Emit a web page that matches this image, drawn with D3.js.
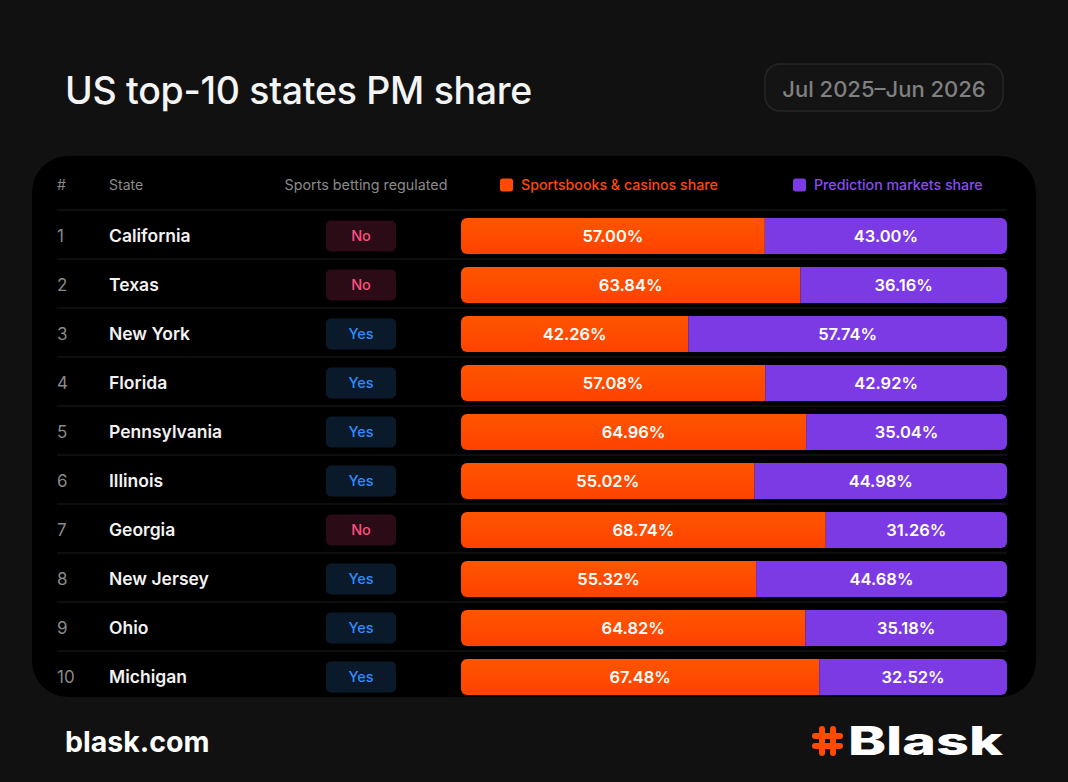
<!DOCTYPE html>
<html>
<head>
<meta charset="utf-8">
<script src="https://cdn.jsdelivr.net/npm/d3@7"></script>
<style>
  html, body { margin: 0; padding: 0; background: #111111; }
  svg { display: block; font-family: Inter, "Noto Sans", sans-serif; }
</style>
</head>
<body>
<div id="chart"></div>
<script>
// chart data
const ranks = [1, 2, 3, 4, 5, 6, 7, 8, 9, 10];
const states = ["California", "Texas", "New York", "Florida", "Pennsylvania", "Illinois", "Georgia", "New Jersey", "Ohio", "Michigan"];
const regulated = ["No", "No", "Yes", "Yes", "Yes", "Yes", "No", "Yes", "Yes", "Yes"];
const sportsbookShare = [57.00, 63.84, 42.26, 57.08, 64.96, 55.02, 68.74, 55.32, 64.82, 67.48];
const predictionShare = [43.00, 36.16, 57.74, 42.92, 35.04, 44.98, 31.26, 44.68, 35.18, 32.52];
const seriesNames = ["Sportsbooks & casinos share", "Prediction markets share"];

const W = 1068, H = 782;
const COLOURS = {
    BG: "#111111",
    PANEL: "#000000",
    ORANGE: "#ff4a00",
    PURPLE: "#7b3ae4",
    GREY: "#8a8a8a",
    LINE: "#1c1c1c",
    NO_BG: "#2a0b16",
    NO_TXT: "#ff4f7f",
    YES_BG: "#0b1a2b",
    YES_TXT: "#2f8cff"
};

const rows = ranks.map((r, i) => ({
    rank: r,
    state: states[i],
    reg: regulated[i],
    sb: sportsbookShare[i],
    pm: predictionShare[i]
}));

const svg = d3.select("#chart").append("svg")
    .attr("width", W)
    .attr("height", H);

svg.append("rect").attr("width", W).attr("height", H).attr("fill", COLOURS.BG);

// title + period pill
svg.append("text")
    .attr("x", 65).attr("y", 104)
    .attr("fill", "#f4f4f4")
    .style("font-size", "37.5px")
    .style("font-weight", 500)
    .style("letter-spacing", "-0.3px")
    .text("US top-10 states PM share");

svg.append("rect")
    .attr("x", 765).attr("y", 64)
    .attr("width", 238).attr("height", 47)
    .attr("rx", 15)
    .attr("fill", "#141414")
    .attr("stroke", "#262626")
    .attr("stroke-width", 1.5);

svg.append("text")
    .attr("x", 884).attr("y", 89)
    .attr("dy", "0.35em")
    .attr("text-anchor", "middle")
    .attr("fill", "#808080")
    .style("font-size", "22px")
    .style("font-weight", 500)
    .text("Jul 2025\u2013Jun 2026");

// table panel
svg.append("rect")
    .attr("x", 32).attr("y", 156)
    .attr("width", 1004).attr("height", 541)
    .attr("rx", 36)
    .attr("fill", COLOURS.PANEL);

// scales: the share scale sits inside a slightly wider rounded track
const track = {x0: 461, x1: 1007};
const x = d3.scaleLinear().domain([0, 100]).range([469, 988]);
const y = d3.scaleBand().domain(ranks).range([211.5, 701.5]);
const barH = 36;

// header
const header = svg.append("g").attr("transform", "translate(0,185)");
header.append("text").attr("x", 57).attr("dy", "0.35em")
    .attr("fill", COLOURS.GREY).style("font-size", "14px").text("#");
header.append("text").attr("x", 109).attr("dy", "0.35em")
    .attr("fill", COLOURS.GREY).style("font-size", "14px").text("State");
header.append("text").attr("x", 366).attr("dy", "0.35em")
    .attr("text-anchor", "middle")
    .attr("fill", COLOURS.GREY).style("font-size", "14.3px").text("Sports betting regulated");

const legend = [
    {name: seriesNames[0], colour: COLOURS.ORANGE, text: "#ff4a00", x: 500},
    {name: seriesNames[1], colour: COLOURS.PURPLE, text: "#8a4cf0", x: 793}
];
const lg = header.selectAll(".legend")
    .data(legend)
    .enter().append("g")
    .attr("class", "legend")
    .attr("transform", d => `translate(${d.x},0)`);
lg.append("rect")
    .attr("y", -6.5).attr("width", 13).attr("height", 13).attr("rx", 2.5)
    .attr("fill", d => d.colour);
lg.append("text")
    .attr("x", 21).attr("dy", "0.35em")
    .attr("fill", d => d.text)
    .style("font-size", "14.2px")
    .style("font-weight", 500)
    .text(d => d.name);

// separators
svg.append("g").selectAll("line")
    .data(ranks)
    .enter().append("line")
    .attr("x1", 57).attr("x2", 1007)
    .attr("y1", d => y(d) - 1.5).attr("y2", d => y(d) - 1.5)
    .attr("stroke", COLOURS.LINE)
    .attr("stroke-width", 1);

// rows
const row = svg.append("g").selectAll(".row")
    .data(rows)
    .enter().append("g")
    .attr("class", "row")
    .attr("transform", d => `translate(0,${y(d.rank) + y.bandwidth() / 2})`);

row.append("text")
    .attr("x", 57).attr("dy", "0.35em")
    .attr("fill", COLOURS.GREY)
    .style("font-size", "17px")
    .text(d => d.rank);

row.append("text")
    .attr("x", 109).attr("dy", "0.35em")
    .attr("fill", "#f2f2f2")
    .style("font-size", "17.5px")
    .style("font-weight", 600)
    .text(d => d.state);

row.append("rect")
    .attr("x", 326).attr("y", -15.5)
    .attr("width", 70).attr("height", 31)
    .attr("rx", 5)
    .attr("fill", d => d.reg === "Yes" ? COLOURS.YES_BG : COLOURS.NO_BG);

row.append("text")
    .attr("x", 361).attr("dy", "0.35em")
    .attr("text-anchor", "middle")
    .attr("fill", d => d.reg === "Yes" ? COLOURS.YES_TXT : COLOURS.NO_TXT)
    .style("font-size", "14.5px")
    .style("font-weight", 500)
    .text(d => d.reg);

// stacked bars, clipped to a rounded shape
const defs = svg.append("defs");
const grad = defs.append("linearGradient").attr("id", "orangeGrad")
    .attr("x1", 0).attr("x2", 0).attr("y1", 0).attr("y2", 1);
grad.append("stop").attr("offset", "0%").attr("stop-color", "#ff5500");
grad.append("stop").attr("offset", "100%").attr("stop-color", "#ff4200");

defs.append("clipPath").attr("id", "barClip")
    .append("rect")
    .attr("x", track.x0).attr("y", -barH / 2)
    .attr("width", track.x1 - track.x0).attr("height", barH)
    .attr("rx", 6);

const bar = row.append("g").attr("clip-path", "url(#barClip)");
bar.append("rect")
    .attr("x", track.x0).attr("y", -barH / 2)
    .attr("width", d => x(d.sb) - track.x0).attr("height", barH)
    .attr("fill", "url(#orangeGrad)");
bar.append("rect")
    .attr("x", d => x(d.sb)).attr("y", -barH / 2)
    .attr("width", d => track.x1 - x(d.sb)).attr("height", barH)
    .attr("fill", COLOURS.PURPLE);

const fmt = v => v.toFixed(2) + "%";
row.append("text")
    .attr("x", d => (track.x0 + x(d.sb)) / 2).attr("dy", "0.35em")
    .attr("text-anchor", "middle")
    .attr("fill", "#ffffff")
    .style("font-size", "16.5px")
    .style("font-weight", 600)
    .text(d => fmt(d.sb));
row.append("text")
    .attr("x", d => (x(d.sb) + track.x1) / 2).attr("dy", "0.35em")
    .attr("text-anchor", "middle")
    .attr("fill", "#ffffff")
    .style("font-size", "16.5px")
    .style("font-weight", 600)
    .text(d => fmt(d.pm));

// footer
svg.append("text")
    .attr("x", 65).attr("y", 752)
    .attr("fill", "#ffffff")
    .style("font-size", "28.5px")
    .style("font-weight", 700)
    .text("blask.com");

// logo: rounded hash mark + wordmark
const logo = svg.append("g").attr("transform", "translate(812,726)");
const hash = logo.append("g").attr("fill", COLOURS.ORANGE);
[[7, 0, 6, 30], [18, 0, 6, 30], [0, 7, 31, 6], [0, 17, 31, 6]].forEach(([hx, hy, hw, hh]) => {
    hash.append("rect").attr("x", hx).attr("y", hy).attr("width", hw).attr("height", hh).attr("rx", 3);
});
logo.append("text")
    .attr("x", 36).attr("y", 29)
    .attr("fill", "#ffffff")
    .attr("textLength", 155)
    .attr("lengthAdjust", "spacingAndGlyphs")
    .style("font-size", "39px")
    .style("font-weight", 800)
    .text("Blask");
</script>
</body>
</html>
